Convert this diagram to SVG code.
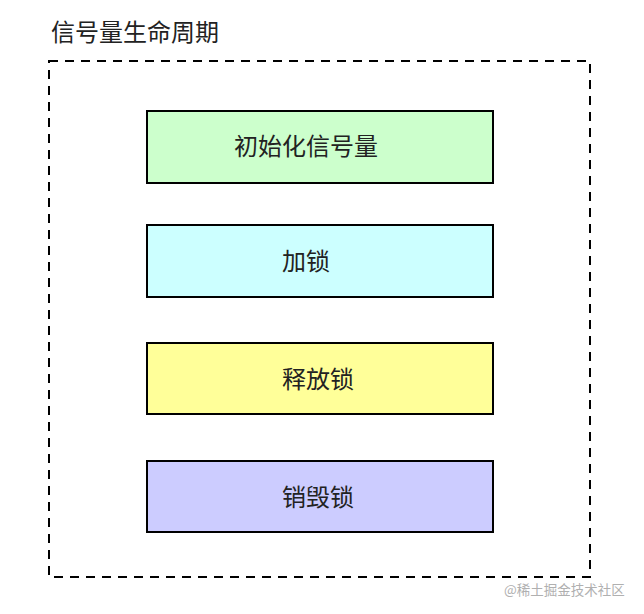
<svg xmlns="http://www.w3.org/2000/svg" width="644" height="614" viewBox="0 0 644 614">
<style>
.box{stroke:#000;stroke-width:2}
.t{font-family:"Noto Sans CJK SC","Noto Sans",sans-serif;font-size:24px;fill:#222}
</style>
<rect width="644" height="614" fill="#fff"/>
<text class="t" x="51" y="41">信号量生命周期</text>
<rect x="49" y="61" width="541" height="516" fill="none" stroke="#000" stroke-width="2" stroke-dasharray="9,7"/>
<g id="init"><rect class="box" x="147" y="111" width="346" height="72" fill="#ccffcc"/><text class="t" x="234" y="155">初始化信号量</text></g>
<g id="lock"><rect class="box" x="147" y="225" width="346" height="72" fill="#ccffff"/><text class="t" x="282" y="270">加锁</text></g>
<g id="unlock"><rect class="box" x="147" y="343" width="346" height="71" fill="#ffff99"/><text class="t" x="282" y="388">释放锁</text></g>
<g id="destroy"><rect class="box" x="147" y="461" width="346" height="71" fill="#ccccff"/><text class="t" x="282" y="506">销毁锁</text></g>
<g id="connectors"></g>
<text x="504" y="595" font-family="Noto Sans CJK SC,sans-serif" font-size="13.5" fill="#b0b0b0">@稀土掘金技术社区</text>
</svg>
